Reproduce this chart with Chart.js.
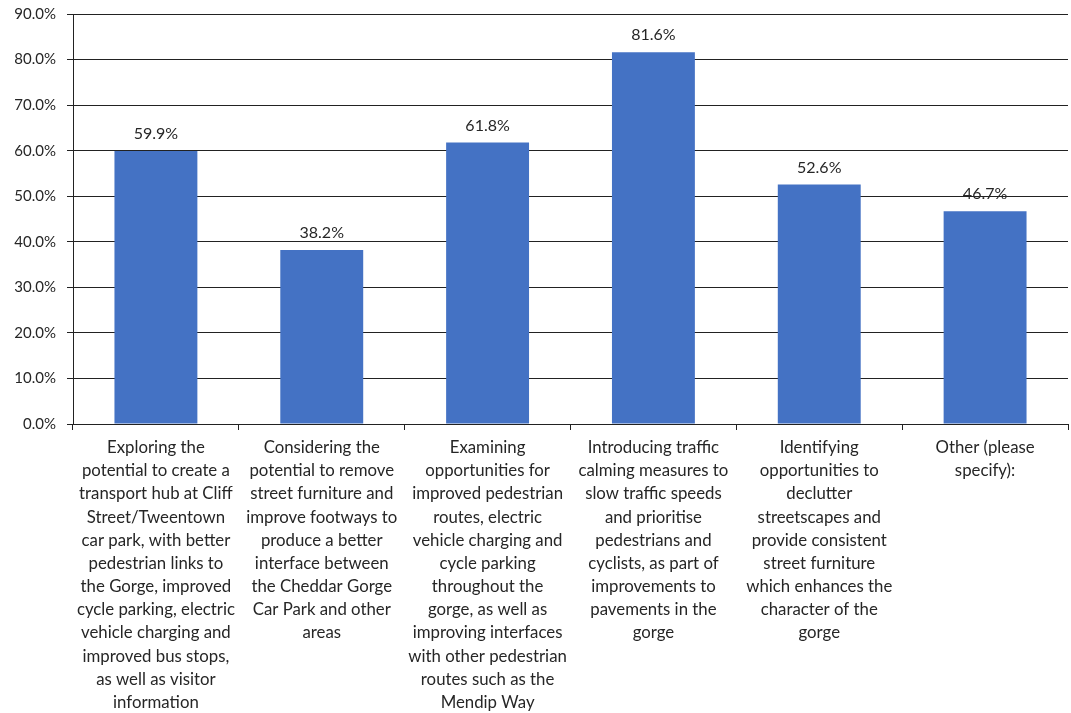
<!DOCTYPE html>
<html lang="en">
<head>
    <meta charset="UTF-8">
    <title>Chart</title>
    <script src="https://cdn.jsdelivr.net/npm/chart.js@4.4.1/dist/chart.umd.min.js"></script>
    <style>
        html, body {margin: 0; padding: 0; background: #fff; overflow: hidden;}
        #box {width: 1071px; height: 713px;}
    </style>
</head>
<body>
<div id="box"><canvas id="chart" width="1071" height="713"></canvas></div>
<script>
    const categories = [
        ['Exploring the', 'potential to create a', 'transport hub at Cliff', 'Street/Tweentown', 'car park, with better', 'pedestrian links to', 'the Gorge, improved', 'cycle parking, electric', 'vehicle charging and', 'improved bus stops,', 'as well as visitor', 'information'],
        ['Considering the', 'potential to remove', 'street furniture and', 'improve footways to', 'produce a better', 'interface between', 'the Cheddar Gorge', 'Car Park and other', 'areas'],
        ['Examining', 'opportunities for', 'improved pedestrian', 'routes, electric', 'vehicle charging and', 'cycle parking', 'throughout the', 'gorge, as well as', 'improving interfaces', 'with other pedestrian', 'routes such as the', 'Mendip Way'],
        ['Introducing traffic', 'calming measures to', 'slow traffic speeds', 'and prioritise', 'pedestrians and', 'cyclists, as part of', 'improvements to', 'pavements in the', 'gorge'],
        ['Identifying', 'opportunities to', 'declutter', 'streetscapes and', 'provide consistent', 'street furniture', 'which enhances the', 'character of the', 'gorge'],
        ['Other (please', 'specify):']
    ];
    const values = [59.9, 38.2, 61.8, 81.6, 52.6, 46.7];

    const FONT = 'Lato, "Open Sans", sans-serif';

    // value labels above the bars
    const valueLabels = {
        id: 'valueLabels',
        afterDatasetsDraw(chart) {
            const ctx = chart.ctx;
            const meta = chart.getDatasetMeta(0);
            ctx.save();
            ctx.font = '16px ' + FONT;
            ctx.fillStyle = '#262626';
            ctx.textAlign = 'center';
            ctx.textBaseline = 'bottom';
            meta.data.forEach(function (bar, i) {
                ctx.fillText(values[i].toFixed(1) + '%', bar.x, bar.y - 9);
            });
            ctx.restore();
        }
    };

    new Chart(document.getElementById('chart'), {
        type: 'bar',
        data: {
            labels: categories,
            datasets: [{
                data: values,
                backgroundColor: '#4472C4',
                borderWidth: 0,
                categoryPercentage: 1,
                barPercentage: 0.5
            }]
        },
        options: {
            responsive: false,
            animation: false,
            layout: {padding: {top: 14, right: 3, left: 0, bottom: 0}},
            plugins: {legend: {display: false}, tooltip: {enabled: false}},
            scales: {
                x: {
                    grid: {display: true, drawOnChartArea: false, drawTicks: true, tickLength: 6, color: '#222', offset: true},
                    border: {color: '#222', width: 1},
                    ticks: {
                        autoSkip: false, maxRotation: 0, minRotation: 0, padding: 6,
                        color: '#262626',
                        font: {family: FONT, size: 16.8, lineHeight: 1.38}
                    },
                    afterFit: function (scale) { scale.height = 289; }
                },
                y: {
                    min: 0, max: 90,
                    ticks: {
                        stepSize: 10, padding: 11, color: '#262626',
                        font: {family: FONT, size: 15},
                        callback: function (v) { return v.toFixed(1) + '%'; }
                    },
                    grid: {color: '#222', tickLength: 6},
                    border: {color: '#222', width: 1},
                    afterFit: function (scale) {
                        scale.width = 73;
                        scale.paddingTop = 0;
                        scale.paddingBottom = 0;
                    }
                }
            }
        },
        plugins: [valueLabels]
    });
</script>
</body>
</html>
